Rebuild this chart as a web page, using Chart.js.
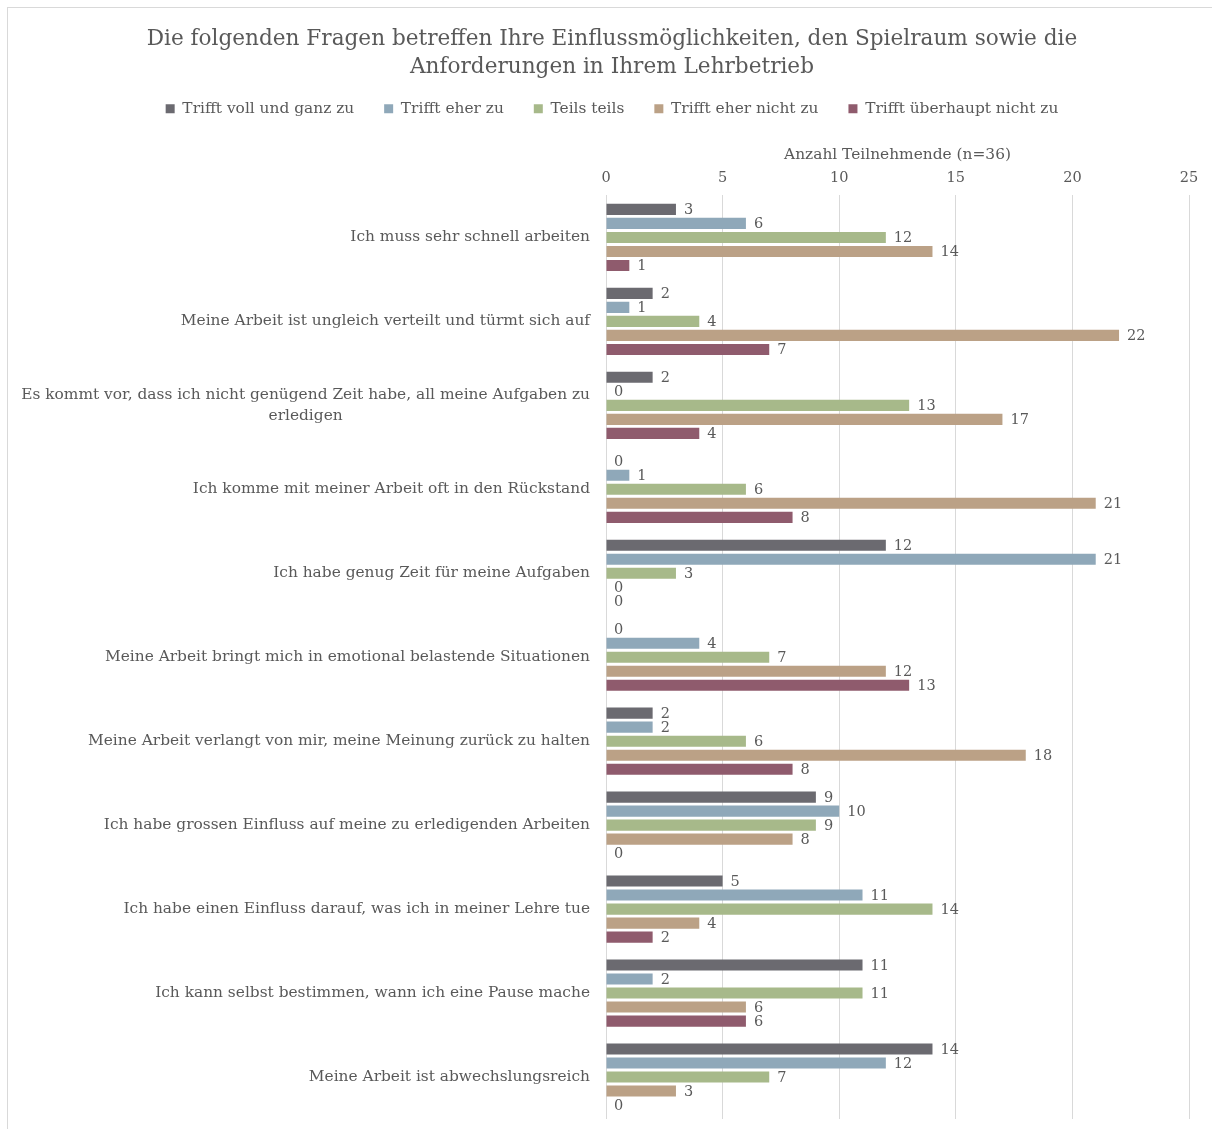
<!DOCTYPE html>
<html>
<head>
<meta charset="utf-8">
<script src="https://cdn.jsdelivr.net/npm/chart.js@4.4.1/dist/chart.umd.min.js"></script>
<style>
  html, body { margin: 0; padding: 0; background: #fff; overflow: hidden; }
  #wrap { position: absolute; left: 0; top: 0; width: 1212px; height: 1129px; }
  #frame { position: absolute; left: 7px; top: 7px; width: 1300px; height: 1300px;
           border: 1px solid #d9d9d9; pointer-events: none; }
</style>
</head>
<body>
<div id="wrap"><canvas id="bars" width="1212" height="1129"></canvas></div>
<div id="frame"></div>
<script>
var fontFam = "'DejaVu Serif', 'Liberation Serif', serif";
var textCol = '#595959';

var questions = [
  'Ich muss sehr schnell arbeiten',
  'Meine Arbeit ist ungleich verteilt und türmt sich auf',
  ['Es kommt vor, dass ich nicht genügend Zeit habe, all meine Aufgaben zu', 'erledigen'],
  'Ich komme mit meiner Arbeit oft in den Rückstand',
  'Ich habe genug Zeit für meine Aufgaben',
  'Meine Arbeit bringt mich in emotional belastende Situationen',
  'Meine Arbeit verlangt von mir, meine Meinung zurück zu halten',
  'Ich habe grossen Einfluss auf meine zu erledigenden Arbeiten',
  'Ich habe einen Einfluss darauf, was ich in meiner Lehre tue',
  'Ich kann selbst bestimmen, wann ich eine Pause mache',
  'Meine Arbeit ist abwechslungsreich'
];

var vollUndGanz   = [3, 2, 2, 0, 12, 0, 2, 9, 5, 11, 14];
var eherZu        = [6, 1, 0, 1, 21, 4, 2, 10, 11, 2, 12];
var teilsTeils    = [12, 4, 13, 6, 3, 7, 6, 9, 14, 11, 7];
var eherNicht     = [14, 22, 17, 21, 0, 12, 18, 8, 4, 6, 3];
var ueberhauptNicht = [1, 7, 4, 8, 0, 13, 8, 0, 2, 6, 0];

var seriesNames = ['Trifft voll und ganz zu', 'Trifft eher zu', 'Teils teils',
                   'Trifft eher nicht zu', 'Trifft überhaupt nicht zu'];
var seriesColors = ['#6b6a70', '#8fa8b9', '#a7b98a', '#bba186', '#8f5b6d'];
var seriesData = [vollUndGanz, eherZu, teilsTeils, eherNicht, ueberhauptNicht];

var xTicks = [0, 5, 10, 15, 20, 25];

// question texts on the left, wrapped lines centred on each other
var questionLabels = {
  id: 'questionLabels',
  afterDraw: function(chart) {
    var ctx = chart.ctx;
    var y = chart.scales.y;
    var right = chart.chartArea.left - 16;
    var lh = 20.5;
    ctx.save();
    ctx.font = '15.4px ' + fontFam;
    ctx.fillStyle = textCol;
    ctx.textBaseline = 'middle';
    ctx.textAlign = 'center';
    questions.forEach(function(q, i) {
      var lines = Array.isArray(q) ? q : [q];
      var maxW = 0;
      lines.forEach(function(l) { maxW = Math.max(maxW, ctx.measureText(l).width); });
      var cx = right - maxW / 2;
      var cy = y.getPixelForTick(i) - (lines.length - 1) * lh / 2;
      lines.forEach(function(l, k) { ctx.fillText(l, cx, cy + k * lh); });
    });
    ctx.restore();
  }
};

// value next to the end of every bar
var valueLabels = {
  id: 'valueLabels',
  afterDatasetsDraw: function(chart) {
    var ctx = chart.ctx;
    ctx.save();
    ctx.font = '14.5px ' + fontFam;
    ctx.fillStyle = textCol;
    ctx.textBaseline = 'middle';
    ctx.textAlign = 'left';
    chart.data.datasets.forEach(function(ds, di) {
      var meta = chart.getDatasetMeta(di);
      meta.data.forEach(function(bar, i) {
        ctx.fillText(String(ds.data[i]), bar.x + 8, bar.y + 1);
      });
    });
    ctx.restore();
  }
};

var ctx = document.getElementById('bars').getContext('2d');
var chart = new Chart(ctx, {
  type: 'bar',
  data: {
    labels: questions,
    datasets: seriesNames.map(function(name, i) {
      return {
        label: name,
        data: seriesData[i],
        backgroundColor: seriesColors[i],
        borderWidth: 0,
        categoryPercentage: 0.835,
        barPercentage: 0.79
      };
    })
  },
  options: {
    indexAxis: 'y',
    responsive: false,
    animation: false,
    layout: { padding: { left: 35, right: 23, top: 25, bottom: 10 } },
    plugins: {
      title: {
        display: true,
        text: ['Die folgenden Fragen betreffen Ihre Einflussmöglichkeiten, den Spielraum sowie die',
               'Anforderungen in Ihrem Lehrbetrieb'],
        color: textCol,
        font: { family: fontFam, size: 21.6, weight: 'normal', lineHeight: 1.3 },
        padding: { top: 0, bottom: -10 }
      },
      legend: {
        position: 'top',
        labels: {
          color: textCol,
          font: { family: fontFam, size: 15.4 },
          boxWidth: 9,
          boxHeight: 9,
          padding: 30
        }
      },
      tooltip: { enabled: false }
    },
    scales: {
      x: {
        position: 'top',
        min: 0,
        max: 25,
        afterBuildTicks: function(scale) {
          scale.ticks = xTicks.map(function(v) { return { value: v }; });
        },
        title: {
          display: true,
          text: 'Anzahl Teilnehmende (n=36)',
          color: textCol,
          font: { family: fontFam, size: 15.4 },
          padding: { top: 19, bottom: -4 }
        },
        ticks: { color: textCol, font: { family: fontFam, size: 14.5 }, padding: 9 },
        grid: { color: '#d9d9d9', drawTicks: false, lineWidth: 1 },
        border: { display: false }
      },
      y: {
        ticks: { display: false },
        grid: { display: false },
        border: { display: false },
        afterFit: function(scale) { scale.width = 571; }
      }
    }
  },
  plugins: [questionLabels, valueLabels]
});
</script>
</body>
</html>
